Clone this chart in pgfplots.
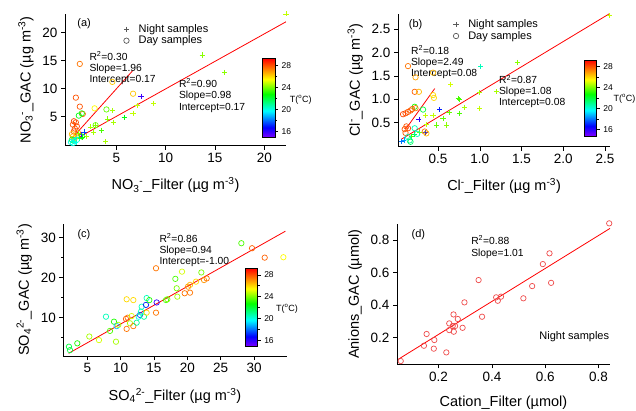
\documentclass[border=0pt]{standalone}
\usepackage{fontspec}
\setmainfont{Liberation Sans}
\usepackage{pgfplots}
\usepackage{pgfplotstable}
\pgfplotsset{compat=1.18}
\usetikzlibrary{calc}

\newcommand\statfont{\fontsize{10.3}{12}\selectfont}
\newcommand\legfont{\fontsize{11}{12}\selectfont}

\pgfplotsset{
  colormap={igor}{rgb255(0cm)=(128,0,255) rgb255(1.3cm)=(0,0,255) rgb255(3.4cm)=(0,255,255) rgb255(5.5cm)=(0,255,0) rgb255(7.4cm)=(255,255,0) rgb255(10cm)=(255,0,0)},
  panel/.style={
    scale only axis, clip=false,
    axis lines*=left,
    tick align=outside,
    major tick length=4pt, minor tick length=2.5pt,
    every tick/.append style={black, line width=0.6pt},
    axis line style={black, line width=0.7pt},
    tick label style={font=\fontsize{13.5}{15}\selectfont},
    label style={font=\fontsize{14.5}{17}\selectfont},
    xlabel style={yshift=-8pt},
    ylabel style={yshift=2pt},
    /pgf/number format/assume math mode=true,
    colormap name=igor,
    point meta min=14.8, point meta max=29.2,
  },
  cbar/.style 2 args={
    colorbar,
    colorbar style={
      at={($(parent axis.south west)+(#1)$)}, anchor=south west,
      scale only axis, width=12.5pt, height=#2,
      ytick={16,20,24,28}, minor ytick={18,22,26},
      ytick pos=right, yticklabel pos=right,
      tick align=outside, major tick length=3pt, minor tick length=2pt,
      yticklabel style={font=\fontsize{8.5}{10}\selectfont},
      axis line style={line width=0.5pt},
      /pgf/number format/assume math mode=true,
    },
  },
  night/.style={scatter, only marks, mark=+, mark size=2.6pt, line width=0.7pt, point meta=explicit, scatter/use mapped color={draw=mapped color}, forget plot},
  day/.style={scatter, only marks, mark=o, mark size=2.7pt, line width=0.7pt, point meta=explicit, scatter/use mapped color={draw=mapped color}, forget plot},
  fit/.style={red, line width=0.8pt, no marks, forget plot},
  leg/.style={legend style={draw=none, fill=none, at={#1}, anchor=north west, inner sep=0pt, row sep=1pt, column sep=9pt, font=\legfont, nodes={inner sep=0.5pt}}, legend cell align=left},
}

\pgfplotstableread{
x y t
22.2 23.3 24.8
13.7 16.0 24.2
16.0 12.9 24.2
8.8 7.3 24.8
7.5 8.6 15.8
7.1 7.0 24.8
6.7 5.6 24.8
5.8 4.9 22.5
4.6 6.1 24.5
4.1 4.6 24.2
4.7 4.0 24.5
3.5 2.6 23.5
3.9 0.6 24.5
2.4 3.2 24.5
2.9 3.4 24.2
2.0 1.5 24.5
2.7 2.2 24.5
1.8 2.3 17.5
1.5 1.9 15.8
1.2 2.0 24.2
1.0 1.3 21
0.8 1.0 19.5
0.6 0.6 20
1.3 1.1 23
0.9 0.5 20
1.6 1.4 22.5
}\aNight
\pgfplotstableread{
x y t
1.3 14.4 27.5
4.6 11.2 26.3
6.7 9.1 26.3
0.9 8.4 28
1.3 6.8 28
1.6 5.5 27.8
1.2 5.2 22.5
1.5 5.6 23
2.8 6.5 25.5
4.0 6.3 23.8
2.9 3.5 23.8
0.7 4.2 28.2
0.9 4.0 28
0.6 3.6 28
1.0 3.3 28.2
0.8 2.9 28
0.7 2.4 28
1.1 2.2 27.5
0.5 1.9 26.5
0.6 1.5 26.5
0.8 1.2 26
0.5 0.9 22.5
0.7 0.7 20.5
0.4 0.5 20
0.6 0.3 20
1.0 0.9 20
1.5 1.5 23
}\aDay
\pgfplotstableread{
x y t
2.55 2.79 24.8
1.45 1.79 24.2
1.01 1.70 20.5
0.65 1.32 25
1.00 1.14 24.5
1.20 1.16 24.5
0.74 1.01 23.5
0.76 0.99 23.5
0.82 0.83 24.5
1.00 0.81 24.8
0.76 0.70 23.5
0.63 0.71 23.8
0.52 0.78 17
0.44 0.66 24.8
0.35 0.66 24.8
0.27 0.57 16
0.56 0.59 23.8
0.48 0.45 23.8
0.60 0.45 24.2
0.36 0.46 24.8
0.35 0.29 17
0.18 0.21 23.5
0.09 0.13 18.5
0.06 0.09 18
0.22 0.25 22
0.28 0.30 24
}\bNight
\pgfplotstableread{
x y t
0.14 1.71 27.5
0.23 1.47 26.8
0.44 1.57 26.5
0.22 1.16 27.8
0.27 1.16 26.5
0.44 1.09 26
0.45 1.03 26
0.22 0.84 23
0.23 0.81 27.5
0.32 0.78 22
0.19 0.79 27.8
0.11 0.70 28
0.14 0.73 28
0.17 0.76 27.8
0.08 0.68 28.2
0.12 0.42 28
0.14 0.38 28.2
0.10 0.36 28
0.11 0.28 27.8
0.22 0.38 20.5
0.25 0.26 20.5
0.14 0.19 20.5
0.16 0.12 21
0.17 0.09 21.5
0.34 0.31 27.5
0.36 0.27 26.5
}\bDay
\pgfplotstableread{
x y t
2.25 2.75 22
2.4 1.9 22
3.5 3.6 23
5.3 5.3 24.5
6.75 4.4 25
8.4 6.7 23.5
9.0 9.0 23
9.3 4.0 24.5
7.8 10.25 20.5
9.4 7.9 19
9.65 8.2 24.5
10.9 14.6 26
11.9 14.4 26
10.8 9.7 28
11.05 10.0 27.5
10.9 7.2 27.5
11.4 8.6 24.5
11.9 7.9 27.5
11.65 10.4 25
12.4 8.75 21
12.9 10.7 17.5
13.05 11.5 20.5
13.15 12.75 20.5
12.7 10.25 20
13.5 10.25 21
13.9 11.25 26
13.8 13.2 17
13.9 14.9 20.5
14.3 14.4 23
15.4 13.8 16
15.3 11.25 27.5
15.3 22.35 27.5
16.8 14.4 23.5
17.0 14.6 24
18.2 19.7 23.5
18.4 17.35 24
18.5 15.25 24.5
19.2 21.5 25
19.6 16.1 27.5
20.1 17.75 27
20.4 16.25 27.5
20.4 18.2 26.5
21.3 19.0 26
22.1 21.3 24
22.5 19.4 27
22.9 19.8 27.5
28.1 28.6 23.5
29.7 27.35 27.8
31.6 25.0 27.8
34.4 25.1 25.5
}\cDay
\pgfplotstableread{
x y
0.058 0.057
0.145 0.151
0.155 0.223
0.184 0.186
0.182 0.133
0.229 0.110
0.240 0.288
0.240 0.247
0.256 0.343
0.253 0.272
0.262 0.272
0.257 0.237
0.272 0.315
0.290 0.261
0.297 0.417
0.350 0.554
0.363 0.329
0.416 0.448
0.422 0.427
0.434 0.452
0.518 0.442
0.551 0.517
0.591 0.652
0.616 0.718
0.622 0.537
0.840 0.902
}\dNight

\begin{document}
\begin{tikzpicture}
\useasboundingbox (0pt,0pt) rectangle (636pt,410pt);

% ---------------- (a)
\begin{axis}[panel, cbar={189pt,8pt}{79pt},
  at={(65pt,264.3pt)}, anchor=south west, width=221pt, height=131.8pt,
  xmin=-0.2, xmax=22.2, ymin=-0.15, ymax=23.3,
  xtick={5,10,15,20}, ytick={5,10,15,20},
  xlabel={NO\textsubscript{3}\textsuperscript{-}\_Filter (µg m\textsuperscript{-3})},
  ylabel={NO\textsubscript{3}\textsuperscript{-}\_GAC (µg m\textsuperscript{-3})},
  leg={(axis description cs:0.265,0.925)}]
\addlegendimage{only marks, mark=+, mark size=2.6pt, line width=0.7pt, black!65}
\addlegendentry{Night samples}
\addlegendimage{only marks, mark=o, mark size=2.7pt, line width=0.7pt, black!65}
\addlegendentry{Day samples}
\addplot[night] table[x=x, y=y, meta=t] {\aNight};
\addplot[day] table[x=x, y=y, meta=t] {\aDay};
\addplot[fit] coordinates {(0.4,0.56) (22.2,21.9)};
\addplot[fit] coordinates {(0.4,0.95) (6.66,13.2)};
\node[anchor=west, font=\legfont] at (axis description cs:0.04,0.925) {(a)};
\node[anchor=base west, font=\statfont] at (axis description cs:0.095,0.648) {R\textsuperscript{2}=0.30};
\node[anchor=base west, font=\statfont] at (axis description cs:0.095,0.564) {Slope=1.96};
\node[anchor=base west, font=\statfont] at (axis description cs:0.095,0.480) {Intercept=0.17};
\node[anchor=base west, font=\statfont] at (axis description cs:0.500,0.443) {R\textsuperscript{2}=0.90};
\node[anchor=base west, font=\statfont] at (axis description cs:0.500,0.355) {Slope=0.98};
\node[anchor=base west, font=\statfont] at (axis description cs:0.500,0.269) {Intercept=0.17};
\node[font=\fontsize{9}{10}\selectfont] at (axis description cs:1.067,0.346) {T(\textsuperscript{o}C)};
\end{axis}

% ---------------- (b)
\begin{axis}[panel, cbar={177.7pt,10.7pt}{76pt},
  at={(398pt,263.3pt)}, anchor=south west, width=212.1pt, height=132.9pt,
  xmin=0.02, xmax=2.56, ymin=-0.015, ymax=2.83,
  xtick={0.5,1,1.5,2,2.5}, ytick={0.5,1,1.5,2,2.5},
  xticklabel style={/pgf/number format/.cd, fixed, fixed zerofill, precision=1},
  yticklabel style={/pgf/number format/.cd, fixed, fixed zerofill, precision=1},
  xlabel={Cl\textsuperscript{-}\_Filter (µg m\textsuperscript{-3})},
  ylabel={Cl\textsuperscript{-}\_GAC (µg m\textsuperscript{-3})},
  leg={(axis description cs:0.26,0.96)}]
\addlegendimage{only marks, mark=+, mark size=2.6pt, line width=0.7pt, black!65}
\addlegendentry{Night samples}
\addlegendimage{only marks, mark=o, mark size=2.7pt, line width=0.7pt, black!65}
\addlegendentry{Day samples}
\addplot[night] table[x=x, y=y, meta=t] {\bNight};
\addplot[day] table[x=x, y=y, meta=t] {\bDay};
\addplot[fit] coordinates {(0.06,0.145) (2.55,2.83)};
\addplot[fit] coordinates {(0.12,0.38) (0.46,1.23)};
\node[anchor=west, font=\legfont] at (axis description cs:0.035,0.917) {(b)};
\node[anchor=base west, font=\statfont] at (axis description cs:0.045,0.693) {R\textsuperscript{2}=0.18};
\node[anchor=base west, font=\statfont] at (axis description cs:0.045,0.608) {Slope=2.49};
\node[anchor=base west, font=\statfont] at (axis description cs:0.045,0.529) {Intercept=0.08};
\node[anchor=base west, font=\statfont] at (axis description cs:0.460,0.474) {R\textsuperscript{2}=0.87};
\node[anchor=base west, font=\statfont] at (axis description cs:0.460,0.393) {Slope=1.08};
\node[anchor=base west, font=\statfont] at (axis description cs:0.460,0.310) {Intercept=0.08};
\node[font=\fontsize{9}{10}\selectfont] at (axis description cs:1.068,0.359) {T(\textsuperscript{o}C)};
\end{axis}

% ---------------- (c)
\begin{axis}[panel, cbar={173.4pt,9.3pt}{78.4pt},
  at={(63.3pt,54pt)}, anchor=south west, width=223.4pt, height=132pt,
  xmin=1.4, xmax=34.9, ymin=0.43, ymax=33.4,
  xtick={5,10,15,20,25,30}, ytick={10,20,30}, minor ytick={5,15,25},
  xlabel={SO\textsubscript{4}\textsuperscript{2-}\_Filter (µg m\textsuperscript{-3})},
  ylabel={SO\textsubscript{4}\textsuperscript{2-}\_GAC (µg m\textsuperscript{-3})}]
\addplot[day] table[x=x, y=y, meta=t] {\cDay};
\addplot[fit] coordinates {(2.2,1.1) (34.7,31.6)};
\node[anchor=west, font=\legfont] at (axis description cs:0.048,0.917) {(c)};
\node[anchor=base west, font=\statfont] at (axis description cs:0.415,0.863) {R\textsuperscript{2}=0.86};
\node[anchor=base west, font=\statfont] at (axis description cs:0.415,0.774) {Slope=0.94};
\node[anchor=base west, font=\statfont] at (axis description cs:0.415,0.691) {Intercept=-1.00};
\node[font=\fontsize{9}{10}\selectfont] at (axis description cs:1.001,0.356) {T(\textsuperscript{o}C)};
\end{axis}

% ---------------- (d)
\begin{axis}[panel,
  at={(397pt,45.7pt)}, anchor=south west, width=213pt, height=140.3pt,
  xmin=0.044, xmax=0.843, ymin=0.037, ymax=0.898,
  xtick={0.2,0.4,0.6,0.8}, ytick={0.2,0.4,0.6,0.8},
  xticklabel style={/pgf/number format/.cd, fixed, fixed zerofill, precision=1},
  yticklabel style={/pgf/number format/.cd, fixed, fixed zerofill, precision=1},
  xlabel={Cation\_Filter (µmol)},
  ylabel={Anions\_GAC (µmol)}]
\addplot[only marks, mark=o, mark size=2.7pt, line width=0.7pt, color={rgb,255:red,238;green,75;blue,75}] table[x=x, y=y] {\dNight};
\addplot[fit] coordinates {(0.048,0.067) (0.843,0.871)};
\node[anchor=west, font=\legfont] at (axis description cs:0.052,0.922) {(d)};
\node[anchor=base west, font=\statfont] at (axis description cs:0.332,0.854) {R\textsuperscript{2}=0.88};
\node[anchor=base west, font=\statfont] at (axis description cs:0.332,0.771) {Slope=1.01};
\node[anchor=base west, font=\legfont] at (axis description cs:0.652,0.175) {Night samples};
\end{axis}
\end{tikzpicture}
\end{document}
